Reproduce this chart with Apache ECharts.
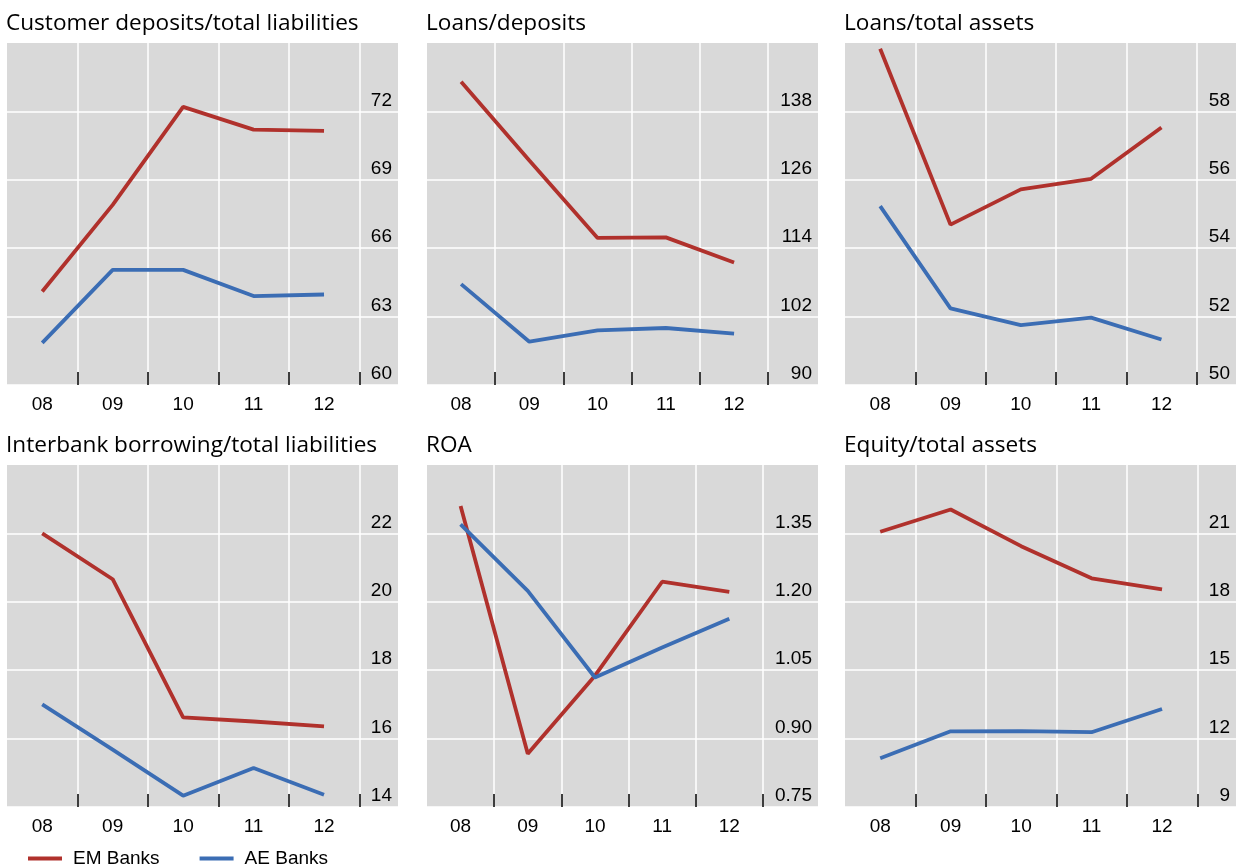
<!DOCTYPE html>
<html>
<head>
<meta charset="utf-8">
<style>
  html, body { margin: 0; padding: 0; background: #fff; }
  #chart { width: 1237px; height: 868px; }
</style>
<script src="https://cdn.jsdelivr.net/npm/echarts@6/dist/echarts.min.js"></script>
</head>
<body>
<div id="chart"></div>
<script>
const years = ['08', '09', '10', '11', '12'];

const depositsEM = [64.1, 67.9, 72.2, 71.2, 71.15];
const depositsAE = [61.85, 65.05, 65.05, 63.9, 63.97];
const depositsTicks = [60, 63, 66, 69, 72];

const loansDepositsEM = [143.2, 129.4, 115.8, 115.9, 111.5];
const loansDepositsAE = [107.7, 97.6, 99.6, 100.0, 99.0];
const loansDepositsTicks = [90, 102, 114, 126, 138];

const loansAssetsEM = [59.83, 54.69, 55.72, 56.03, 57.53];
const loansAssetsAE = [55.23, 52.24, 51.75, 51.97, 51.33];
const loansAssetsTicks = [50, 52, 54, 56, 58];

const interbankEM = [22.0, 20.66, 16.62, 16.5, 16.36];
const interbankAE = [17.0, 15.68, 14.33, 15.14, 14.36];
const interbankTicks = [14, 16, 18, 20, 22];

const roaEM = [1.41, 0.867, 1.038, 1.244, 1.222];
const roaAE = [1.37, 1.224, 1.034, 1.10, 1.163];
const roaTicks = [0.75, 0.90, 1.05, 1.20, 1.35];

const equityEM = [21.07, 22.05, 20.44, 19.03, 18.55];
const equityAE = [11.14, 12.32, 12.33, 12.28, 13.30];
const equityTicks = [9, 12, 15, 18, 21];

const RED = '#b0312c';
const BLUE = '#3b6db4';
const LABEL_FONT = '"Liberation Sans", Arial, sans-serif';
const TITLE_FONT = '"Open Sans", "Noto Sans", sans-serif';

// layout of the six panels (px)
const panels = [
  { title: 'Customer deposits/total liabilities', em: depositsEM, ae: depositsAE, ticks: depositsTicks, max: 75, digits: 0, left: 7, top: 43, xMax: 5.05 },
  { title: 'Loans/deposits', em: loansDepositsEM, ae: loansDepositsAE, ticks: loansDepositsTicks, max: 150, digits: 0, left: 427, top: 43, xMax: 5.23 },
  { title: 'Loans/total assets', em: loansAssetsEM, ae: loansAssetsAE, ticks: loansAssetsTicks, max: 60, digits: 0, left: 845, top: 43, xMax: 5.06 },
  { title: 'Interbank borrowing/total liabilities', em: interbankEM, ae: interbankAE, ticks: interbankTicks, max: 24, digits: 0, left: 7, top: 465, xMax: 5.05 },
  { title: 'ROA', em: roaEM, ae: roaAE, ticks: roaTicks, max: 1.5, digits: 2, left: 427, top: 465, xMax: 5.32 },
  { title: 'Equity/total assets', em: equityEM, ae: equityAE, ticks: equityTicks, max: 24, digits: 0, left: 845, top: 465, xMax: 5.05 },
];
const PANEL_W = 391;
const PANEL_H = 342;

const chart = echarts.init(document.getElementById('chart'), null, { renderer: 'canvas' });

const title = panels.map((p) => ({
  text: p.title,
  left: p.left - 1,
  top: p.top - 31,
  padding: 0,
  textStyle: { fontFamily: TITLE_FONT, fontSize: 22.6, fontWeight: 'normal', color: '#000' },
}));

const grid = panels.map((p) => ({
  left: p.left,
  top: p.top,
  width: PANEL_W,
  height: PANEL_H,
  show: true,
  backgroundColor: '#d9d9d9',
  borderWidth: 0,
  containLabel: false,
  outerBoundsMode: 'none',
}));

const xAxis = panels.map((p, i) => ({
  type: 'value',
  gridIndex: i,
  min: -0.5,
  max: p.xMax,
  axisLine: { show: true, lineStyle: { color: '#ffffff', width: 1 } },
  axisTick: {
    show: true,
    inside: true,
    length: 13,
    customValues: [0.5, 1.5, 2.5, 3.5, 4.5],
    lineStyle: { color: '#000', width: 1.5 },
  },
  axisLabel: {
    customValues: [0, 1, 2, 3, 4],
    formatter: (v) => years[Math.round(v)],
    margin: 10,
    fontFamily: LABEL_FONT,
    fontSize: 19,
    color: '#000',
  },
  splitLine: { show: true, lineStyle: { color: '#ffffff', width: 1.5 } },
}));

const yAxis = panels.map((p, i) => ({
  type: 'value',
  gridIndex: i,
  position: 'right',
  min: p.ticks[0],
  max: p.max,
  axisLine: { show: false },
  axisTick: { show: false, customValues: p.ticks },
  axisLabel: {
    inside: true,
    customValues: p.ticks,
    formatter: (v) => v.toFixed(p.digits),
    margin: 6,
    verticalAlign: 'bottom',
    lineHeight: 22,
    fontFamily: LABEL_FONT,
    fontSize: 19,
    color: '#000',
  },
  splitLine: { show: true, lineStyle: { color: '#ffffff', width: 1.5 } },
}));

function line(name, values, color, i) {
  return {
    name,
    type: 'line',
    xAxisIndex: i,
    yAxisIndex: i,
    symbol: 'none',
    silent: true,
    lineStyle: { color, width: 3.8 },
    itemStyle: { color },
    data: values.map((v, k) => [k, v]),
  };
}

const series = [];
panels.forEach((p, i) => {
  series.push(line('EM Banks', p.em, RED, i));
  series.push(line('AE Banks', p.ae, BLUE, i));
});

chart.setOption({
  animation: false,
  title,
  grid,
  xAxis,
  yAxis,
  legend: {
    data: [
      { name: 'EM Banks', icon: 'rect' },
      { name: 'AE Banks', icon: 'rect' },
    ],
    left: 28,
    top: 849,
    itemWidth: 34,
    itemHeight: 4,
    itemGap: 40,
    padding: 0,
    textStyle: { fontFamily: LABEL_FONT, fontSize: 19, color: '#000', padding: [0, 0, 0, 6] },
  },
  series,
});

window.addEventListener('resize', () => chart.resize());
</script>
</body>
</html>
